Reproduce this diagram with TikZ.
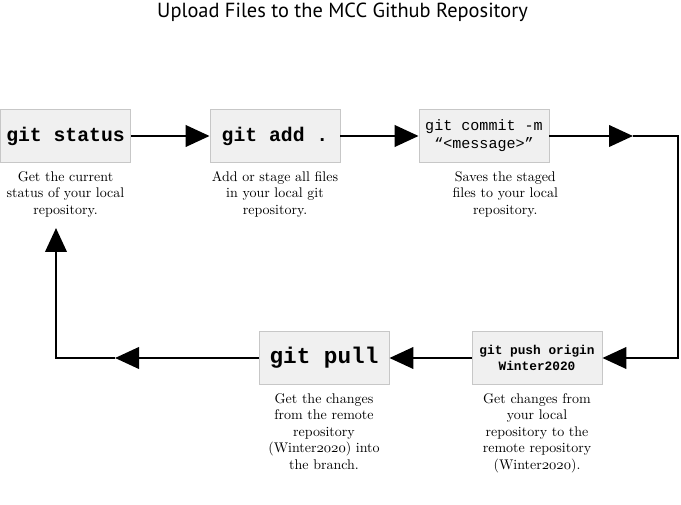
\documentclass[tikz,border=0pt]{standalone}
\usepackage{fontspec}
\setsansfont{PT Sans}
\setmonofont{Liberation Mono}
\usetikzlibrary{arrows.meta, positioning}
\newcommand{\osnum}[1]{{\usefont{OML}{cmm}{m}{it}#1}}

\begin{document}
\begin{tikzpicture}[
                    x=0.75pt, y=-0.75pt,
                    cmd/.style={draw=black!22, fill=black!6, line width=0.6pt, minimum width=97.5pt, minimum height=40pt, align=center, inner sep=0pt},
                    desc/.style={align=center, inner sep=0pt, font=\fontsize{10.5}{12.4}\selectfont},
                    flow/.style={line width=2.2pt},
                    tip/.style={-{Triangle[length=18pt, width=16pt]}}
                    ]

  \useasboundingbox (0,0) rectangle (681,505);

  \node[font=\sffamily\fontsize{15.3}{18}\selectfont] (title) at (342.5,12) {Upload Files to the MCC Github Repository};

  \node[cmd, font=\ttfamily\bfseries\fontsize{14.8}{16}\selectfont] (status) at (65.5,136) {git status};
  \node[cmd, font=\ttfamily\bfseries\fontsize{14.8}{16}\selectfont] (add) at (275,136) {git add .};
  \node[cmd, font=\ttfamily\fontsize{11.3}{13.5}\selectfont] (commit) at (484,136) {git commit -m\\“<message>”};
  \node[cmd, font=\ttfamily\bfseries\fontsize{9.6}{12}\selectfont] (push) at (537,358) {git push origin\\Winter2020};
  \node[cmd, font=\ttfamily\bfseries\fontsize{17}{18}\selectfont] (pull) at (324,358) {git pull};

  \node[desc, below=6pt of status] (statusdesc) {Get the current\\status of your local\\repository.};
  \node[desc, below=6pt of add] (adddesc) {Add or stage all files\\in your local git\\repository.};
  \node[desc, below=6pt of commit, xshift=16pt] (commitdesc) {Saves the staged\\files to your local\\repository.};
  \node[desc, below=6pt of push] (pushdesc) {Get changes from\\your local\\repository to the\\remote repository\\(Winter\osnum{2020}).};
  \node[desc, below=6pt of pull] (pulldesc) {Get the changes\\from the remote\\repository\\(Winter\osnum{2020}) into\\the branch.};

  \coordinate (tm) at (633,136);
  \coordinate (tr) at (678,136);
  \coordinate (br) at (678,358);
  \coordinate (bm) at (115,358);
  \coordinate (bl) at (56,358);
  \coordinate (tl) at (56,228);

  \draw[flow, tip] (status) -- (add);
  \draw[flow, tip] (add) -- (commit);
  \draw[flow, tip] (commit) -- (tm);
  \draw[flow, tip] (tm) -- (tr) -- (br) -- (push);
  \draw[flow, tip] (push) -- (pull);
  \draw[flow, tip] (pull) -- (bm);
  \draw[flow, tip] (bm) -- (bl) -- (tl);

\end{tikzpicture}
\end{document}
